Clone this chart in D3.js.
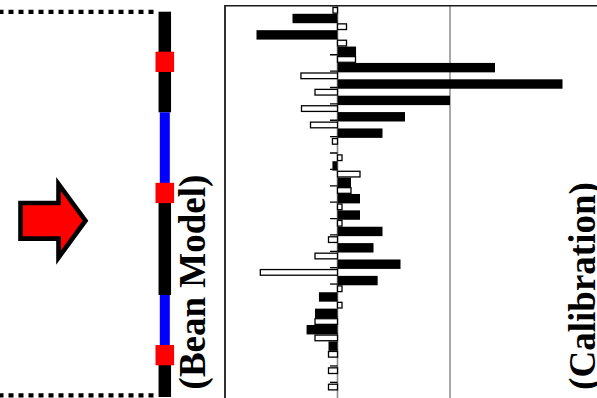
<!DOCTYPE html>
<html><head><meta charset="utf-8">
<script src="https://cdn.jsdelivr.net/npm/d3@7"></script>
<style>html,body{margin:0;padding:0;background:#fff;overflow:hidden}</style>
</head><body>
<svg id="chart" width="597" height="398" xmlns="http://www.w3.org/2000/svg"></svg>
<script>
// ---- data ----
const categories = ["1","2","3","4","5","6","7","8","9","10","11","12","13","14","15","16","17","18","19","20","21","22","23","24","25"];
const filledValues = [0, -0.40, -0.72, 0.165, 1.40, 2.00, 1.00, 0.60, 0.40, 0, -0.045, 0.12, 0.20, 0.20, 0.40, 0.32, 0.56, 0.357, -0.165, -0.20, -0.275, -0.08, 0, 0, 0];
const openValues = [-0.04, 0.08, 0.08, 0.16, -0.325, -0.20, -0.32, -0.24, -0.045, 0.04, 0.20, 0.12, 0.04, 0.04, -0.08, -0.20, -0.686, 0.04, 0.04, -0.20, -0.20, -0.08, -0.08, -0.08, 0];
const gridTicks = [1];
const labelLeft = "(Bean Model)";
const labelRight = "(Calibration)";

// ---- layout ----
const svg = d3.select("#chart");
const plot = {left: 225, top: 5.7, right: 680, bottom: 420};
const step = 16.38, firstCenter = 5.6;

const x = d3.scaleLinear().domain([-1, 3]).range([plot.left, plot.left + 4 * 112.5]);
const y = d3.scaleBand().domain(categories)
  .range([firstCenter - step / 2, firstCenter - step / 2 + categories.length * step])
  .paddingInner(0).paddingOuter(0);

const rows = categories.map((c, i) => ({c, f: filledValues[i], o: openValues[i]}));

// ---- left schematic ----
const schem = svg.append("g");
schem.append("line").attr("x1", 0).attr("x2", 156).attr("y1", 11.8).attr("y2", 11.8)
  .attr("stroke", "#000").attr("stroke-width", 4.2).attr("stroke-dasharray", "5,5").attr("stroke-dashoffset", 1.5);
schem.append("line").attr("x1", 0).attr("x2", 156).attr("y1", 395.3).attr("y2", 395.3)
  .attr("stroke", "#000").attr("stroke-width", 4.2).attr("stroke-dasharray", "5,5").attr("stroke-dashoffset", 1.5);

const beamX = 164.8;
const segs = [
  {a: 11.7, b: 112.3, col: "#000", w: 12.5},
  {a: 112.3, b: 183, col: "#0000ff", w: 10},
  {a: 203, b: 295, col: "#000", w: 12.5},
  {a: 295, b: 345, col: "#0000ff", w: 10},
  {a: 365, b: 397, col: "#000", w: 12.5}
];
schem.selectAll("rect.seg").data(segs).join("rect").attr("class", "seg")
  .attr("x", d => beamX - d.w / 2).attr("width", d => d.w)
  .attr("y", d => d.a).attr("height", d => d.b - d.a).attr("fill", d => d.col);
const joints = [51.7, 182.8, 345];
schem.selectAll("rect.joint").data(joints).join("rect").attr("class", "joint")
  .attr("x", beamX - 9.3).attr("width", 18.6).attr("y", d => d).attr("height", 20.3).attr("fill", "#ff0000");

schem.append("path")
  .attr("d", "M20.5,203 L58.5,203 L58.5,184 L85.5,220.7 L58.5,257.6 L58.5,238.6 L20.5,238.6 Z")
  .attr("fill", "#ff0000").attr("stroke", "#000").attr("stroke-width", 4.6).attr("stroke-linejoin", "miter");

svg.append("text").text(labelLeft)
  .attr("transform", "translate(205,282) rotate(-90)")
  .attr("text-anchor", "middle")
  .attr("font-family", "'Liberation Serif','Times New Roman',serif")
  .attr("font-weight", "bold").attr("font-size", 37).attr("fill", "#000");

// ---- bar chart ----
const defs = svg.append("defs");
defs.append("clipPath").attr("id", "plotclip").append("rect")
  .attr("x", plot.left).attr("y", plot.top).attr("width", plot.right - plot.left).attr("height", plot.bottom - plot.top);

const g = svg.append("g").attr("clip-path", "url(#plotclip)");

g.selectAll("line.grid").data(gridTicks).join("line").attr("class", "grid")
  .attr("x1", d => x(d)).attr("x2", d => x(d)).attr("y1", plot.top).attr("y2", plot.bottom)
  .attr("stroke", "#8c8c8c").attr("stroke-width", 1.5);
g.append("line").attr("x1", x(0)).attr("x2", x(0)).attr("y1", plot.top).attr("y2", plot.bottom)
  .attr("stroke", "#8c8c8c").attr("stroke-width", 1.6);

const blackH = step * 0.575;
g.selectAll("rect.filled").data(rows).join("rect").attr("class", "filled")
  .attr("x", d => Math.min(x(0), x(d.f))).attr("width", d => Math.abs(x(d.f) - x(0)))
  .attr("y", d => y(d.c)).attr("height", blackH)
  .attr("fill", "#000");

const sw = 1.3;
g.selectAll("rect.open").data(rows.filter(d => d.o !== 0)).join("rect").attr("class", "open")
  .attr("x", d => Math.min(x(0), x(d.o))).attr("width", d => Math.abs(x(d.o) - x(0)))
  .attr("y", d => y(d.c) + blackH + sw / 2).attr("height", step - blackH - sw)
  .attr("fill", "#fff").attr("stroke", "#000").attr("stroke-width", sw);

const ax = g.append("g").attr("transform", `translate(${x(0)},0)`)
  .call(d3.axisLeft(y).tickSize(7.5).tickFormat(""));
ax.select(".domain").remove();
ax.selectAll(".tick line").attr("stroke", "#000").attr("stroke-width", 1.3);

// frame
svg.append("line").attr("x1", plot.left).attr("x2", 597).attr("y1", plot.top).attr("y2", plot.top)
  .attr("stroke", "#1a1a1a").attr("stroke-width", 1.6);
svg.append("line").attr("x1", plot.left).attr("x2", plot.left).attr("y1", plot.top - 0.8).attr("y2", 398)
  .attr("stroke", "#1a1a1a").attr("stroke-width", 1.8);

svg.append("text").text(labelRight)
  .attr("transform", "translate(595,286) rotate(-90)")
  .attr("text-anchor", "middle")
  .attr("font-family", "'Liberation Serif','Times New Roman',serif")
  .attr("font-weight", "bold").attr("font-size", 37).attr("fill", "#000");
</script>
</body></html>
